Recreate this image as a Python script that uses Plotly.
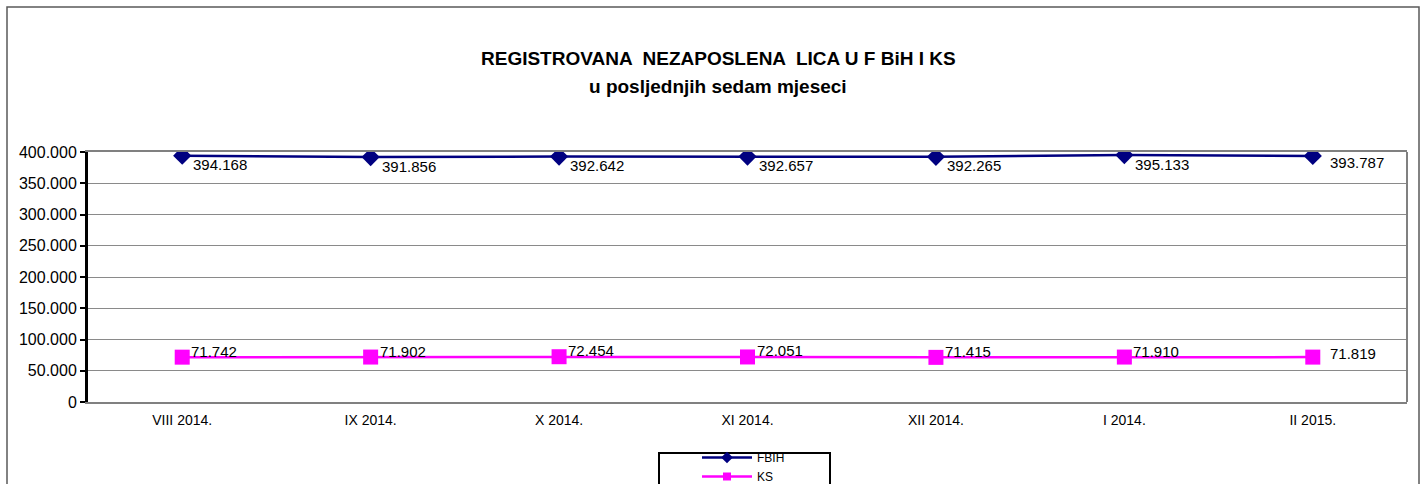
import plotly.graph_objects as go

categories = ["VIII 2014.", "IX 2014.", "X 2014.", "XI 2014.", "XII 2014.", "I 2014.", "II 2015."]
fbih_values = [394168, 391856, 392642, 392657, 392265, 395133, 393787]
ks_values = [71742, 71902, 72454, 72051, 71415, 71910, 71819]
y_ticks = [0, 50000, 100000, 150000, 200000, 250000, 300000, 350000, 400000]
series_names = ["FBIH", "KS"]
title_line1 = "REGISTROVANA  NEZAPOSLENA  LICA U F BiH I KS"
title_line2 = "u posljednjih sedam mjeseci"

FONT = "Liberation Sans, Arial, sans-serif"
W, H = 1427, 484
L, R, T, B = 88, 1407, 152, 402  # plot area in pixels
NAVY, MAGENTA = "#000080", "#FF00FF"


def px_x(x):
    return (x - L) / (R - L)


def px_y(y):
    return (B - y) / (B - T)


fig = go.Figure()
fig.add_trace(go.Scatter(
    x=categories, y=fbih_values, name=series_names[0], mode="lines+markers",
    line=dict(color=NAVY, width=2.5),
    marker=dict(symbol="diamond", size=14, color=NAVY), showlegend=False,
))
fig.add_trace(go.Scatter(
    x=categories, y=ks_values, name=series_names[1], mode="lines+markers",
    line=dict(color=MAGENTA, width=2.5),
    marker=dict(symbol="square", size=15, color=MAGENTA), showlegend=False,
))
# legend entries (smaller symbols as in the reference legend)
fig.add_trace(go.Scatter(
    x=[None], y=[None], name=series_names[0], mode="lines+markers",
    line=dict(color=NAVY, width=2.5),
    marker=dict(symbol="diamond", size=9, color=NAVY),
))
fig.add_trace(go.Scatter(
    x=[None], y=[None], name=series_names[1], mode="lines+markers",
    line=dict(color=MAGENTA, width=2.5),
    marker=dict(symbol="square", size=8, color=MAGENTA),
))


def fmt(v):
    return f"{v:,}".replace(",", ".")


annotations = []
n = len(categories)
for i, (c, v) in enumerate(zip(categories, fbih_values)):
    last = i == n - 1
    annotations.append(dict(
        x=c, y=v, xref="x", yref="y", text=fmt(v), showarrow=False,
        xanchor="left", yanchor="middle",
        xshift=15 if last else 9, yshift=-7 if last else -9,
        font=dict(family=FONT, size=15, color="#000000"),
    ))
for i, (c, v) in enumerate(zip(categories, ks_values)):
    last = i == n - 1
    annotations.append(dict(
        x=c, y=v, xref="x", yref="y", text=fmt(v), showarrow=False,
        xanchor="left", yanchor="middle",
        xshift=15 if last else 7, yshift=4 if last else 6,
        font=dict(family=FONT, size=15, color="#000000"),
    ))
annotations.append(dict(
    x=px_x(718), y=px_y(59), xref="paper", yref="paper", text="<b>" + title_line1 + "</b>",
    showarrow=False, xanchor="center", yanchor="middle",
    font=dict(family=FONT, size=19, color="#000000"),
))
annotations.append(dict(
    x=px_x(718), y=px_y(86), xref="paper", yref="paper", text="<b>" + title_line2 + "</b>",
    showarrow=False, xanchor="center", yanchor="middle",
    font=dict(family=FONT, size=19, color="#000000"),
))

fig.update_layout(
    width=W, height=H, autosize=False,
    margin=dict(l=L, r=W - R, t=T, b=H - B, autoexpand=False),
    paper_bgcolor="white", plot_bgcolor="white",
    separators=",.",
    font=dict(family=FONT, size=14, color="#000000"),
    annotations=annotations,
    xaxis=dict(
        type="category", range=[-0.5, 6.5], showgrid=False,
        showline=True, linecolor="#808080", linewidth=2, mirror=True,
        ticks="", tickfont=dict(family=FONT, size=14), ticklabelstandoff=4,
    ),
    yaxis=dict(
        range=[0, 400000], tickvals=y_ticks, tickformat=",d",
        showgrid=True, gridcolor="#8a8a8a", gridwidth=1,
        showline=True, linecolor="#000000", linewidth=3,
        ticks="outside", ticklen=5, tickcolor="#000000", tickwidth=2,
        zeroline=False, tickfont=dict(family=FONT, size=16),
    ),
    legend=dict(
        x=px_x(697), y=px_y(443), xanchor="left", yanchor="top",
        xref="paper", yref="paper",
        bgcolor="rgba(0,0,0,0)", borderwidth=0,
        font=dict(family=FONT, size=12), tracegroupgap=0, itemwidth=50,
    ),
    showlegend=True,
    shapes=[
        dict(type="rect", xref="paper", yref="paper",
             x0=px_x(7), x1=px_x(1419), y0=px_y(520), y1=px_y(7),
             line=dict(color="#595959", width=1.5), layer="below"),
        dict(type="line", xref="paper", yref="paper", x0=1, x1=1, y0=0, y1=1,
             line=dict(color="#808080", width=2)),
        dict(type="rect", xref="paper", yref="paper",
             x0=px_x(659), x1=px_x(830), y0=px_y(520), y1=px_y(453),
             line=dict(color="#000000", width=2), fillcolor="white", layer="below"),
    ],
)

fig.write_html(
    "out.html",
    config={"displayModeBar": False},
    post_script="document.body.style.margin='0';document.body.style.overflow='hidden';",
)
